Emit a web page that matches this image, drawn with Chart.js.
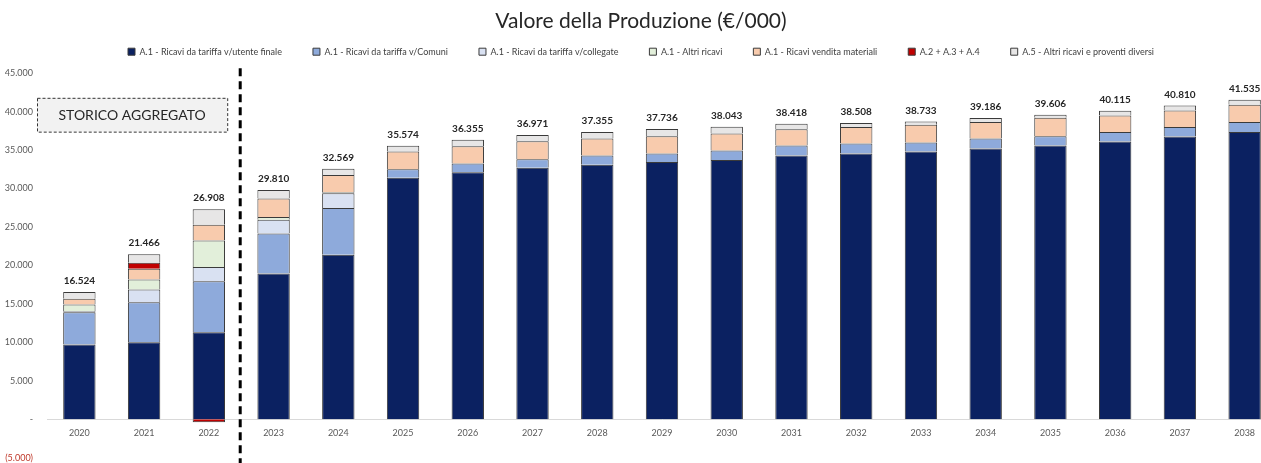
<!DOCTYPE html>
<html>
<head>
<meta charset="utf-8">
<script src="https://cdn.jsdelivr.net/npm/chart.js@4.4.1/dist/chart.umd.min.js"></script>
<style>
  body { margin: 0; background: #fff; overflow: hidden; }
  #wrap { width: 1281px; height: 469px; position: relative; }
</style>
</head>
<body>
<div id="wrap"><canvas id="Canvas1"></canvas></div>
<script>
// categorie e serie (€/000)
var anni = ["2020", "2021", "2022", "2023", "2024", "2025", "2026", "2027", "2028", "2029",
            "2030", "2031", "2032", "2033", "2034", "2035", "2036", "2037", "2038"];
var utenteFinale     = [9700, 10000, 11300, 18950, 21400, 31400, 32100, 32700, 33100, 33450, 33700, 34300, 34550, 34800, 35200, 35600, 36100, 36750, 37350];
var comuni           = [4200, 5200, 6650, 5200, 6050, 1100, 1150, 1100, 1200, 1100, 1250, 1300, 1300, 1200, 1300, 1200, 1250, 1250, 1300];
var collegate        = [150, 1650, 1850, 1800, 1950, 0, 0, 0, 0, 0, 0, 0, 0, 0, 0, 0, 0, 0, 0];
var altriRicavi      = [850, 1300, 3450, 350, 100, 0, 0, 0, 0, 0, 0, 0, 0, 0, 0, 0, 0, 0, 0];
var venditaMateriali = [750, 1400, 2050, 2400, 2250, 2300, 2250, 2350, 2200, 2250, 2200, 2100, 2150, 2300, 2150, 2400, 2150, 2150, 2250];
var a2a3a4           = [0, 800, -400, 0, 0, 0, 0, 0, 0, 0, 0, 0, 0, 0, 0, 0, 0, 0, 0];
var a5               = [874, 1116, 2008, 1110, 819, 774, 855, 821, 855, 936, 893, 718, 508, 433, 536, 406, 615, 660, 635];
var yTicks = [-5000, 0, 5000, 10000, 15000, 20000, 25000, 30000, 35000, 40000, 45000];

function fmt(n) {
    return String(Math.round(n)).replace(/\B(?=(\d{3})+(?!\d))/g, ".");
}

var serie = [
    ["A.1 - Ricavi da tariffa v/utente finale", utenteFinale, '#0b2161'],
    ["A.1 - Ricavi da tariffa v/Comuni", comuni, '#8eaadb'],
    ["A.1 - Ricavi da tariffa v/collegate", collegate, '#d9e1f2'],
    ["A.1 - Altri ricavi", altriRicavi, '#e2efda'],
    ["A.1 - Ricavi vendita materiali", venditaMateriali, '#f8cbad'],
    ["A.2 + A.3 + A.4", a2a3a4, '#c00000'],
    ["A.5 - Altri ricavi e proventi diversi", a5, '#e7e6e6']
];

var datasets = serie.map(function (s) {
    return {
        label: s[0],
        data: s[1],
        backgroundColor: s[2],
        borderColor: '#3a3a3a',
        borderWidth: 1,
        categoryPercentage: 1,
        barPercentage: 0.5
    };
});

// totali sopra le barre + riquadro "storico" e separatore
var extras = {
    id: 'extras',
    afterDatasetsDraw: function (chart) {
        var ctx = chart.ctx, x = chart.scales.x, y = chart.scales.y;
        ctx.save();
        ctx.font = 'bold 10px Lato';
        ctx.fillStyle = '#262626';
        ctx.textAlign = 'center';
        ctx.textBaseline = 'bottom';
        anni.forEach(function (a, i) {
            var tot = 0, pos = 0;
            serie.forEach(function (s) { tot += s[1][i]; if (s[1][i] > 0) pos += s[1][i]; });
            ctx.fillText(fmt(tot), x.getPixelForValue(i), y.getPixelForValue(pos) - 6);
        });

        // linea tratteggiata tra storico e previsione
        var sx = (x.getPixelForValue(2) + x.getPixelForValue(3)) / 2 - 1;
        ctx.strokeStyle = '#000';
        ctx.lineWidth = 3;
        ctx.setLineDash([8, 5]);
        ctx.beginPath();
        ctx.moveTo(sx, y.getPixelForValue(45000) - 5);
        ctx.lineTo(sx, chart.height);
        ctx.stroke();

        // riquadro STORICO AGGREGATO
        var bx = chart.chartArea.left - 10, by = y.getPixelForValue(41800);
        var bw = sx - 13 - bx, bh = y.getPixelForValue(37400) - by;
        ctx.fillStyle = '#f2f2f2';
        ctx.fillRect(bx, by, bw, bh);
        ctx.lineWidth = 1;
        ctx.strokeStyle = '#333';
        ctx.setLineDash([3, 2]);
        ctx.strokeRect(bx + 0.5, by + 0.5, bw, bh);
        ctx.setLineDash([]);
        ctx.fillStyle = '#262626';
        ctx.font = '14px Lato';
        ctx.textBaseline = 'middle';
        ctx.fillText('STORICO AGGREGATO', bx + bw / 2, by + bh / 2 + 1);
        ctx.restore();
    }
};

var GKChart = document.getElementById('Canvas1').getContext('2d');
var myChart = new Chart(GKChart, {
    type: 'bar',
    data: { labels: anni, datasets: datasets },
    options: {
        responsive: true,
        maintainAspectRatio: false,
        animation: false,
        layout: { padding: { left: 5, right: 4, top: 0, bottom: 0 } },
        plugins: {
            title: {
                display: true,
                text: 'Valore della Produzione (€/000)',
                color: '#262626',
                font: { family: 'Lato', size: 21, weight: 'normal' },
                padding: { top: 9, bottom: -18 }
            },
            legend: {
                labels: {
                    boxWidth: 7,
                    boxHeight: 7,
                    padding: 31,
                    color: '#404040',
                    font: { family: 'Lato', size: 9 }
                }
            },
            tooltip: { enabled: false }
        },
        scales: {
            x: {
                stacked: true,
                position: { y: 0 },
                grid: { display: false, drawTicks: false },
                border: { color: '#d9d9d9', width: 1 },
                ticks: { color: '#595959', padding: 9, font: { family: 'Lato', size: 9 } }
            },
            y: {
                stacked: true,
                min: -5000,
                max: 45910,
                grid: { display: false },
                border: { display: false },
                afterFit: function (axis) { axis.width = 42; },
                afterBuildTicks: function (axis) {
                    axis.ticks = yTicks.map(function (v) { return { value: v }; });
                },
                ticks: {
                    padding: 6,
                    font: { family: 'Lato', size: 9 },
                    color: function (c) { return c.tick && c.tick.value < 0 ? '#c0392b' : '#595959'; },
                    callback: function (v) {
                        if (v === 0) return '-';
                        if (v < 0) return '(' + fmt(-v) + ')';
                        return fmt(v);
                    }
                }
            }
        }
    },
    plugins: [extras]
});
</script>
</body>
</html>
